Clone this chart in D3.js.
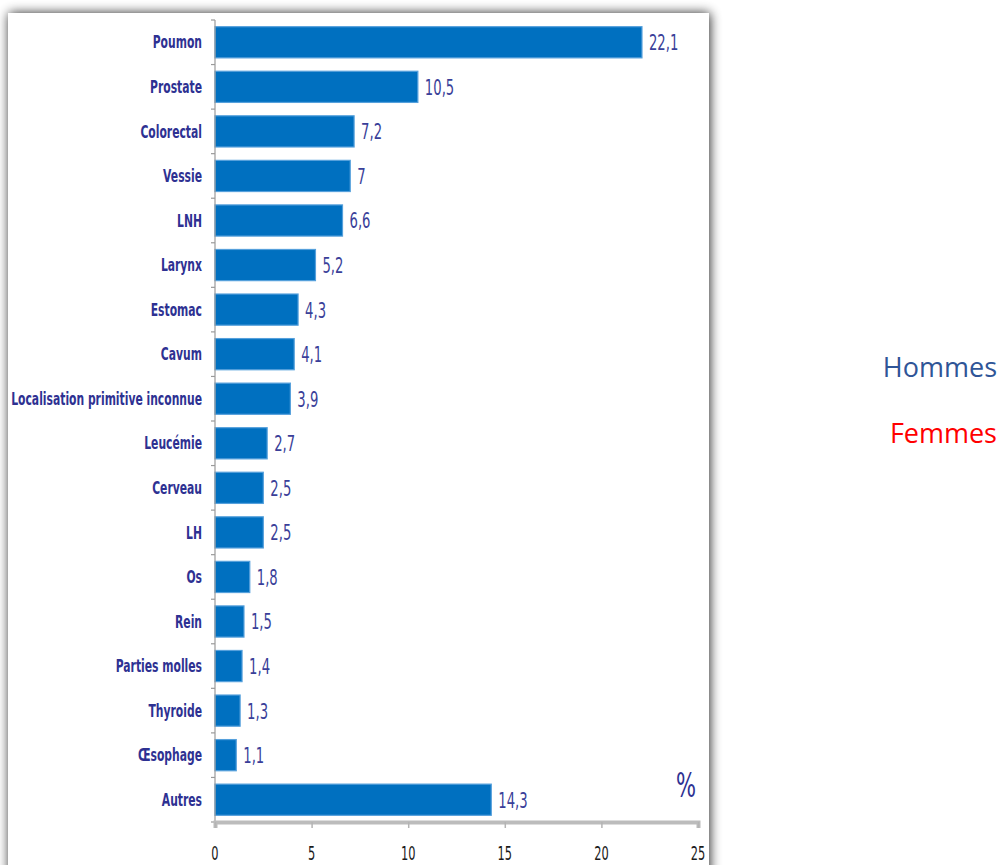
<!DOCTYPE html>
<html>
<head>
<meta charset="utf-8">
<script src="https://cdn.jsdelivr.net/npm/d3@7"></script>
<style>
  html, body { margin: 0; padding: 0; background: #fff; }
  svg { display: block; }
</style>
</head>
<body>
<svg id="chart" width="1002" height="865"></svg>
<script>
// Localisations des cancers chez l'homme (%)
const categories = [
  "Poumon", "Prostate", "Colorectal", "Vessie", "LNH", "Larynx", "Estomac",
  "Cavum", "Localisation primitive inconnue", "Leucémie", "Cerveau", "LH",
  "Os", "Rein", "Parties molles", "Thyroide", "Œsophage", "Autres"
];
const values = [22.1, 10.5, 7.2, 7, 6.6, 5.2, 4.3, 4.1, 3.9, 2.7, 2.5, 2.5, 1.8, 1.5, 1.4, 1.3, 1.1, 14.3];
const xTicks = [0, 5, 10, 15, 20, 25];
const legendLabels = ["Hommes", "Femmes"];
const legendColors = ["#2f5597", "#ff0000"];

const svg = d3.select("#chart");
const narrowFont = "'DejaVu Sans', sans-serif";

// drop shadow for the white panel
const defs = svg.append("defs");
const f = defs.append("filter").attr("id", "shadow")
  .attr("x", "-10%").attr("y", "-10%").attr("width", "120%").attr("height", "120%");
f.append("feGaussianBlur").attr("in", "SourceAlpha").attr("stdDeviation", 6).attr("result", "b");
f.append("feOffset").attr("in", "b").attr("dx", 1).attr("dy", 0).attr("result", "o");
f.append("feComponentTransfer").attr("in", "o").attr("result", "s")
  .append("feFuncA").attr("type", "linear").attr("slope", 0.85);
const fm = f.append("feMerge");
fm.append("feMergeNode").attr("in", "s");
fm.append("feMergeNode").attr("in", "SourceGraphic");

svg.append("rect")
  .attr("x", 8).attr("y", 13).attr("width", 701).attr("height", 900)
  .attr("fill", "#fff").attr("filter", "url(#shadow)");

const x = d3.scaleLinear().domain([0, 25]).range([215, 698]);
const y = d3.scaleBand().domain(categories).range([20, 822]).paddingInner(0.3).paddingOuter(0.15);

// condensed text: horizontally squeezed glyphs
function narrow(sel, sx) {
  return sel.attr("transform", function () {
    const tx = +this.getAttribute("data-x"), ty = +this.getAttribute("data-y");
    return `translate(${tx},${ty}) scale(${sx},1)`;
  });
}

// bars
svg.append("g").selectAll("rect")
  .data(values)
  .join("rect")
  .attr("x", x(0))
  .attr("y", (d, i) => y(categories[i]))
  .attr("width", d => x(d) - x(0))
  .attr("height", y.bandwidth())
  .attr("fill", "#0070c0")
  .attr("stroke", "#55a0dc")
  .attr("stroke-width", 1.2);

// value labels
svg.append("g").selectAll("text")
  .data(values)
  .join("text")
  .attr("data-x", d => x(d) + 7)
  .attr("data-y", (d, i) => y(categories[i]) + y.bandwidth() / 2)
  .attr("dy", "0.36em")
  .attr("font-family", narrowFont)
  .attr("font-size", 22)
  .attr("fill", "#3a3f99")
  .text(d => String(d).replace(".", ","))
  .call(narrow, 0.6);

// y axis (categories) with ticks between bands
const yAxis = svg.append("g").attr("transform", `translate(${x(0)},0)`);
yAxis.append("line")
  .attr("x1", 0).attr("x2", 0).attr("y1", 20).attr("y2", 822)
  .attr("stroke", "#9a9a9a").attr("stroke-width", 1.2);
const step = y.step();
const boundaries = d3.range(categories.length + 1).map(i => y(categories[0]) - y.paddingInner() * step / 2 + i * step);
yAxis.selectAll("line.tick")
  .data(boundaries)
  .join("line").attr("class", "tick")
  .attr("x1", -4).attr("x2", 0)
  .attr("y1", d => d).attr("y2", d => d)
  .attr("stroke", "#9a9a9a").attr("stroke-width", 1.2);
svg.append("g").selectAll("text")
  .data(categories)
  .join("text")
  .attr("data-x", x(0) - 13)
  .attr("data-y", d => y(d) + y.bandwidth() / 2)
  .attr("dy", "0.36em")
  .attr("text-anchor", "end")
  .attr("font-family", narrowFont)
  .attr("font-weight", "bold")
  .attr("font-size", 17)
  .attr("fill", "#2e3192")
  .text(d => d)
  .call(narrow, 0.635);

// x axis
const xAxis = svg.append("g").attr("transform", "translate(0,822)")
  .call(d3.axisBottom(x).tickValues(xTicks).tickSize(6).tickFormat(d3.format("d")));
xAxis.select(".domain").attr("stroke", "#bcbcbc").attr("stroke-width", 4);
xAxis.selectAll(".tick line").attr("stroke", "#b4b4b4").attr("stroke-width", 1.5);
xAxis.selectAll(".tick text").remove();
svg.append("g").selectAll("text")
  .data(xTicks)
  .join("text")
  .attr("data-x", d => x(d))
  .attr("data-y", 860)
  .attr("text-anchor", "middle")
  .attr("font-family", narrowFont)
  .attr("font-size", 19)
  .attr("fill", "#1a1a1a")
  .text(d => d)
  .call(narrow, 0.6);

// unit label
svg.append("text")
  .attr("data-x", 686).attr("data-y", 797)
  .attr("text-anchor", "middle")
  .attr("font-family", narrowFont)
  .attr("font-size", 34)
  .attr("fill", "#2e3192")
  .text("%")
  .call(narrow, 0.62);

// legend
svg.append("g").selectAll("text")
  .data(legendLabels)
  .join("text")
  .attr("x", 997)
  .attr("y", (d, i) => 377 + i * 66)
  .attr("text-anchor", "end")
  .attr("font-family", "'Open Sans', 'Noto Sans', sans-serif")
  .attr("font-size", 27)
  .attr("fill", (d, i) => legendColors[i])
  .text(d => d);
</script>
</body>
</html>
